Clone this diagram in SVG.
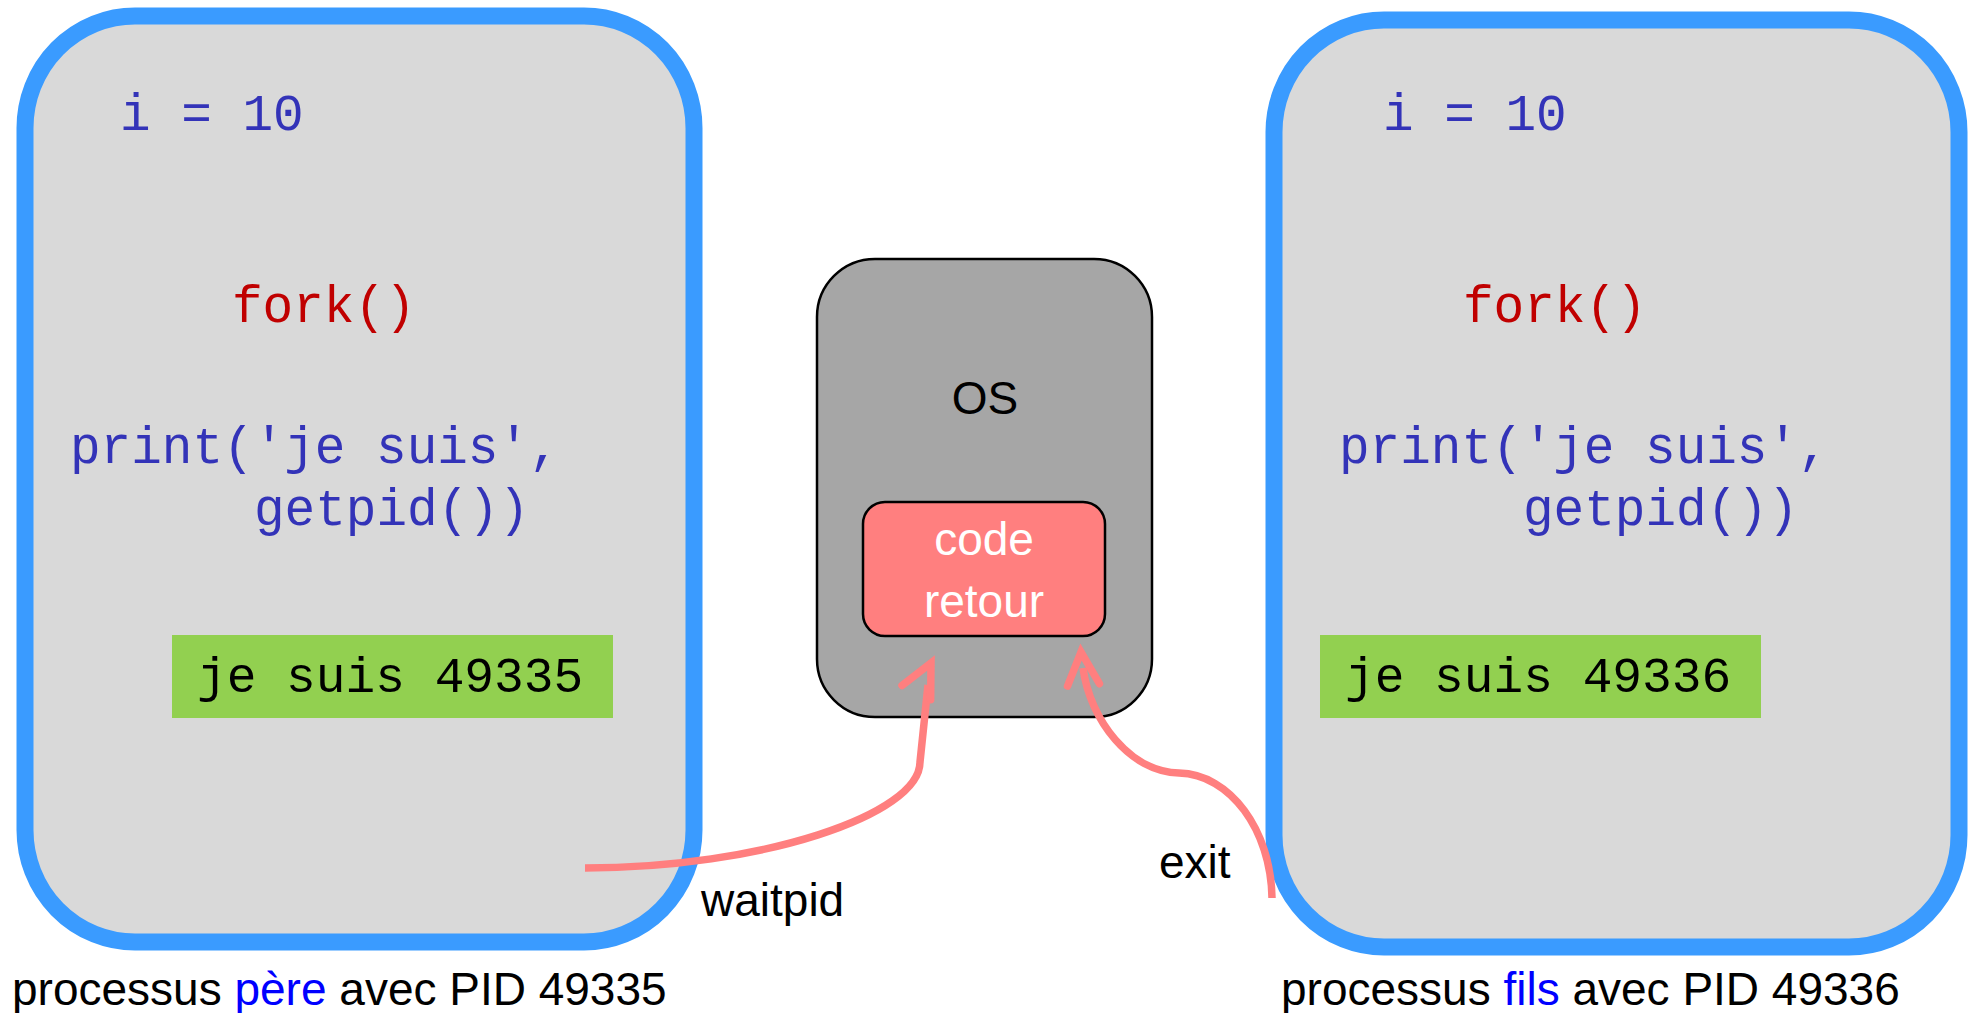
<svg xmlns="http://www.w3.org/2000/svg" xmlns:xlink="http://www.w3.org/1999/xlink" width="1970" height="1013" viewBox="0 0 1970 1013">
<style>
.proc{fill:#d9d9d9;stroke:#3a9bff;stroke-width:17}
.code{font-family:"Liberation Mono","Courier New",monospace;font-size:51px;fill:#3333b8}
.fork{fill:#c00000}
.out{font-family:"Liberation Mono","Courier New",monospace;font-size:49.5px;fill:#000}
.outbox{fill:#92d050}
.sans{font-family:"Liberation Sans",Arial,sans-serif;font-size:46px;fill:#000}
.blue{fill:#0000ff}
.os{fill:#a6a6a6;stroke:#000;stroke-width:2.5}
.ret{fill:#ff7f7f;stroke:#000;stroke-width:2.5}
.white{fill:#fff}
.arrow{fill:none;stroke:#ff7f7f;stroke-width:7.5;stroke-linecap:butt}
.head{fill:none;stroke:#ff7f7f;stroke-width:7.5;stroke-linecap:round;stroke-linejoin:miter}
</style>
<defs>
<path id="chev" d="M -33 -16 L 0 0 L -33 16"/>
</defs>
<rect width="1970" height="1013" fill="#fff"/>
<g id="pere">
<rect class="proc" x="25" y="16" width="669" height="926" rx="110" ry="112"/>
<text class="code" x="120" y="130" xml:space="preserve">i = 10</text>
<text class="code fork" x="232" y="322">fork()</text>
<text class="code" x="70" y="463">print('je suis',</text>
<text class="code" x="254" y="525">getpid())</text>
<rect class="outbox" x="172" y="635" width="441" height="83"/>
<text class="out" x="197" y="692">je suis 49335</text>
<text class="sans" x="12" y="1005">processus <tspan class="blue">père</tspan> avec PID 49335</text>
</g>
<g id="fils">
<rect class="proc" x="1274" y="20" width="685" height="927" rx="110" ry="112"/>
<text class="code" x="1383" y="130" xml:space="preserve">i = 10</text>
<text class="code fork" x="1463" y="322">fork()</text>
<text class="code" x="1339" y="463">print('je suis',</text>
<text class="code" x="1523" y="525">getpid())</text>
<rect class="outbox" x="1320" y="635" width="441" height="83"/>
<text class="out" x="1345" y="692">je suis 49336</text>
<text class="sans" x="1281" y="1005">processus <tspan class="blue">fils</tspan> avec PID 49336</text>
</g>
<g id="os">
<rect class="os" x="817" y="259" width="335" height="458" rx="58"/>
<text class="sans" x="985" y="414" text-anchor="middle">OS</text>
</g>
<g id="code-retour">
<rect class="ret" x="863" y="502" width="242" height="134" rx="22"/>
<text class="sans white" x="984" y="555" text-anchor="middle">code</text>
<text class="sans white" x="984" y="617" text-anchor="middle">retour</text>
</g>
<g id="connectors">
<path class="arrow" d="M 585 868 C 760 868 920 815 920 762 L 928 685"/>
<use class="head" xlink:href="#chev" transform="translate(931 663) rotate(-63.6)"/>
<text class="sans" x="701" y="916">waitpid</text>
<path class="arrow" d="M 1272 898 C 1271 830 1230 774 1179 773 C 1130 772 1090 720 1083 668"/>
<use class="head" xlink:href="#chev" transform="translate(1081 652) rotate(-94.3)"/>
<text class="sans" x="1159" y="878">exit</text>
</g>
</svg>
